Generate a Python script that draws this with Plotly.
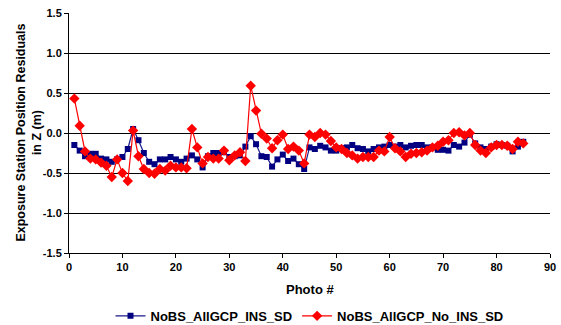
import plotly.graph_objects as go

# Photo numbers 1..85
photo = list(range(1, 86))

# Z residuals (m) with INS standard deviations
ins_sd = [
    -0.15, -0.22, -0.29, -0.26, -0.26, -0.32, -0.33, -0.36, -0.33, -0.30,
    -0.20, 0.05, -0.09, -0.25, -0.36, -0.39, -0.33, -0.33, -0.30, -0.33,
    -0.36, -0.32, -0.28, -0.33, -0.43, -0.29, -0.25, -0.25, -0.24, -0.30,
    -0.29, -0.28, -0.17, -0.04, -0.14, -0.29, -0.30, -0.42, -0.33, -0.27,
    -0.35, -0.32, -0.39, -0.45, -0.18, -0.20, -0.16, -0.18, -0.22, -0.22,
    -0.19, -0.18, -0.15, -0.19, -0.20, -0.23, -0.20, -0.18, -0.17, -0.15,
    -0.17, -0.15, -0.18, -0.16, -0.15, -0.15, -0.18, -0.18, -0.21, -0.21,
    -0.22, -0.15, -0.17, -0.12, -0.02, -0.13, -0.18, -0.20, -0.17, -0.14,
    -0.15, -0.16, -0.23, -0.17, -0.11,
]

# Z residuals (m) without INS standard deviations
no_ins_sd = [
    0.43, 0.09, -0.23, -0.32, -0.33, -0.37, -0.41, -0.55, -0.33, -0.50,
    -0.60, 0.03, -0.29, -0.45, -0.50, -0.51, -0.45, -0.47, -0.41, -0.43,
    -0.43, -0.44, 0.05, -0.18, -0.38, -0.30, -0.32, -0.32, -0.22, -0.34,
    -0.28, -0.24, -0.35, 0.59, 0.28, -0.01, -0.07, -0.19, -0.09, -0.02,
    -0.20, -0.17, -0.22, -0.38, -0.02, -0.05, 0.00, -0.02, -0.10, -0.18,
    -0.20, -0.25, -0.28, -0.32, -0.30, -0.30, -0.30, -0.22, -0.23, -0.05,
    -0.19, -0.23, -0.30, -0.26, -0.25, -0.24, -0.22, -0.18, -0.16, -0.11,
    -0.09, 0.00, 0.01, -0.03, 0.00, -0.15, -0.22, -0.25, -0.18, -0.15,
    -0.15, -0.16, -0.20, -0.11, -0.13,
]

y_ticks = [-1.5, -1.0, -0.5, 0.0, 0.5, 1.0, 1.5]
y_tick_text = ["-1.5", "-1.0", "-0.5", "0.0", "0.5", "1.0", "1.5"]
x_ticks = [0, 10, 20, 30, 40, 50, 60, 70, 80, 90]

FONT = "Liberation Sans, Arial, sans-serif"
TICK_FONT = dict(size=11, family=FONT, weight="bold", color="black")

fig = go.Figure()
fig.add_trace(go.Scatter(
    x=photo, y=ins_sd, name="NoBS_AllGCP_INS_SD",
    mode="lines+markers",
    line=dict(color="#1a1a8c", width=1.2),
    marker=dict(symbol="square", size=6, color="#000080"),
))
fig.add_trace(go.Scatter(
    x=photo, y=no_ins_sd, name="NoBS_AllGCP_No_INS_SD",
    mode="lines+markers",
    line=dict(color="#ff0000", width=1.2),
    marker=dict(symbol="diamond", size=8, color="#ff0000"),
))

fig.update_layout(
    width=561, height=325,
    margin=dict(l=69, r=5, t=13, b=72),
    paper_bgcolor="white", plot_bgcolor="white",
    font=dict(family=FONT, color="black"),
    showlegend=True,
    legend=dict(
        orientation="h", xref="paper", x=0.5, xanchor="center",
        yref="container", y=0.028, yanchor="middle",
        font=dict(size=13, family=FONT, weight="bold"),
        itemwidth=30, tracegroupgap=0,
    ),
    annotations=[
        dict(
            text="Photo #", xref="paper", yref="paper", x=0.5, y=-0.154,
            xanchor="center", yanchor="middle", showarrow=False,
            font=dict(size=13, family=FONT, weight="bold", color="black"),
        ),
        dict(
            text="Exposure Station Position Residuals<br>in Z (m)",
            xref="paper", yref="paper", x=-0.084, y=0.5,
            xanchor="center", yanchor="middle", textangle=-90,
            showarrow=False,
            font=dict(size=12.5, family=FONT, weight="bold", color="black"),
        ),
    ],
)

fig.update_xaxes(
    range=[0, 90], tickvals=x_ticks,
    showgrid=False, zeroline=False,
    showline=True, linecolor="black", linewidth=1,
    ticks="outside", ticklen=4, tickcolor="black",
    tickfont=TICK_FONT, ticklabeloverflow="allow",
)
fig.update_yaxes(
    range=[-1.5, 1.5], tickvals=y_ticks, ticktext=y_tick_text,
    showgrid=True, gridcolor="black", gridwidth=1, zeroline=False,
    showline=True, linecolor="black", linewidth=1,
    ticks="outside", ticklen=4, tickcolor="black",
    tickfont=TICK_FONT,
)

fig.write_html("out.html")
